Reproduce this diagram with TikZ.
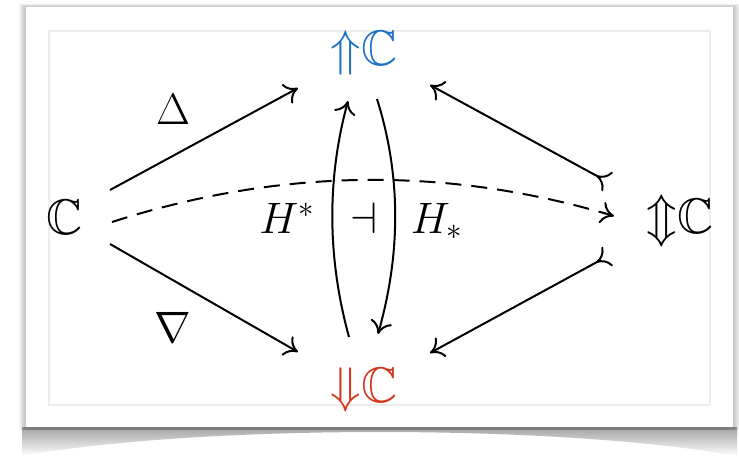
\documentclass[tikz,border=0pt]{standalone}
\usepackage{fix-cm}
\usepackage{amsmath,amssymb}
\usetikzlibrary{arrows.meta,calc}
\definecolor{cdblue}{HTML}{1E70C4}
\definecolor{cdred}{HTML}{D5361B}
\tikzset{
  cdtip/.tip={Computer Modern Rightarrow[length=6.5pt,width=11pt]},
  cd/.style={line width=1pt, -cdtip},
  tl/.style={line width=1pt, {Computer Modern Rightarrow[reversed,length=6.5pt,width=11pt]}-cdtip},
  dsh/.style={dash pattern=on 8pt off 5pt},
  obj/.style={anchor=base, inner sep=0pt, font=\fontsize{25}{30}\selectfont},
  lbl/.style={anchor=base, inner sep=0pt, font=\fontsize{22}{26}\selectfont},
}
\begin{document}
\begin{tikzpicture}[x=0.5pt,y=-0.5pt]
\useasboundingbox (0,0) rectangle (739,456);
\fill[white] (0,0) rectangle (739,456);
% frame shadow
\shade[top color=black!40, bottom color=white]
  (22,427) -- (737,427) -- (737,456) .. controls (560,424) and (200,424) .. (22,456) -- cycle;
\foreach \i in {1,...,7} {\fill[black, opacity=0.035] (26-\i,7-0.5*\i) rectangle (733+\i,430);}
\fill[white] (26,7) rectangle (733,427);
\draw[black!7, line width=0.8pt] (49,31) rectangle (710,405);
% objects
\node[obj] (C) at (65,234) {$\mathbb{C}$};
\node[obj, text=cdblue] (U) at (364,65) {${\Uparrow}\mathbb{C}$};
\node[obj, text=cdred] (D) at (364,402) {${\Downarrow}\mathbb{C}$};
\node[obj] (E) at (680,233) {${\Updownarrow}\mathbb{C}$};
% labels
\node[lbl] (delta) at (173,124) {$\Delta$};
\node[lbl] (nabla) at (173,342) {$\nabla$};
\node[lbl] (hs) at (287,233) {$H^*$};
\node[lbl] (adj) at (364,233) {$\dashv$};
\node[lbl] (hl) at (437,233) {$H_*$};
% connectors
\draw[cd] ($(C.base)+(45,-44)$) -- ($(U.base)+(-66,23)$);
\draw[cd] ($(C.base)+(45,10)$) -- ($(D.base)+(-66,-50)$);
\draw[tl] ($(E.base)+(-72,-51)$) -- ($(U.base)+(66,20)$);
\draw[tl] ($(E.base)+(-72,23)$) -- ($(D.base)+(66,-49)$);
\draw[cd,dsh] ($(C.base)+(47,-12)$) .. controls (280,168) and (446,166) .. ($(E.base)+(-66,-17)$);
\draw[cd] ($(D.base)+(-15,-65)$) .. controls (327,257) and (327,178) .. ($(U.base)+(-16,36)$);
\draw[cd] ($(U.base)+(13,34)$) .. controls (401,175) and (401,253) .. ($(D.base)+(14,-68)$);
\end{tikzpicture}
\end{document}
